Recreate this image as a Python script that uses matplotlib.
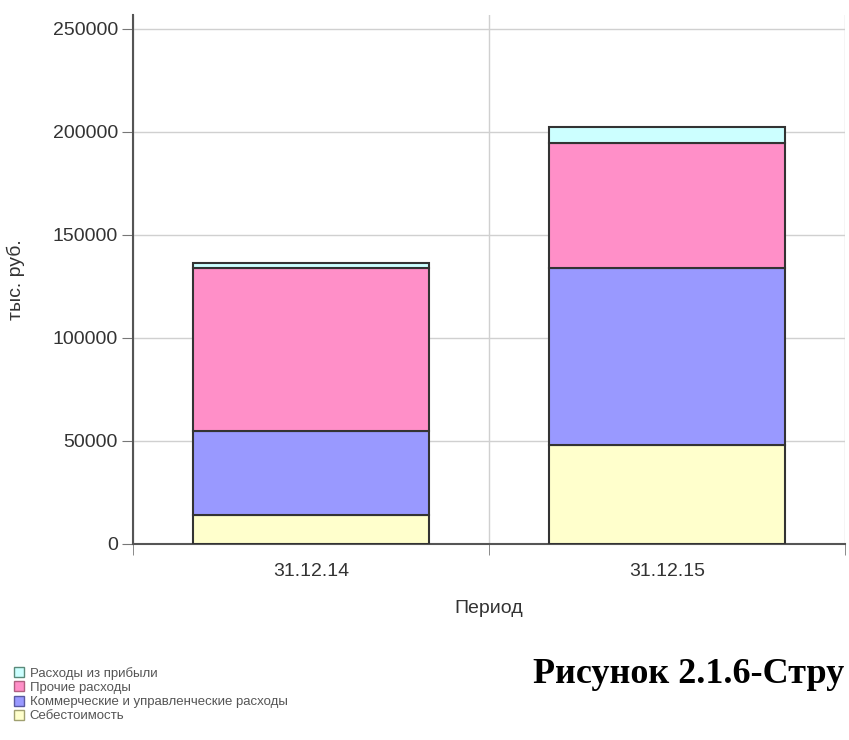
import matplotlib
matplotlib.use("Agg")
from matplotlib import pyplot as plt
import numpy as np

periods = ["31.12.14", "31.12.15"]
sebest = [14000, 48000]
kommerch = [41000, 86000]
prochie = [79000, 60700]
iz_pribyli = [2400, 7700]

names = ["Себестоимость", "Коммерческие и управленческие расходы",
         "Прочие расходы", "Расходы из прибыли"]
colors = ["#ffffcc", "#9999ff", "#ff8fc8", "#ccffff"]
legend_edges = ["#a0a070", "#5a5aa0", "#b06080", "#5a8a7a"]
series = [sebest, kommerch, prochie, iz_pribyli]

plt.rcParams["font.family"] = ["Liberation Sans", "DejaVu Sans"]

fig = plt.figure(figsize=(8.49, 7.40), dpi=100)
ax = fig.add_axes([0.157, 0.265, 0.838, 0.715])

x = np.arange(len(periods))
bottom = np.zeros(len(periods))
bars = []
for vals, col in zip(series, colors):
    b = ax.bar(x, vals, width=0.665, bottom=bottom, color=col,
               edgecolor="#333333", linewidth=1.5, zorder=3)
    bars.append(b)
    bottom += np.array(vals)

ax.set_xlim(-0.5, 1.5)
ax.set_ylim(0, 256800)
ax.set_yticks([0, 50000, 100000, 150000, 200000, 250000])
ax.set_xticks(x)
ax.set_xticklabels(periods)
ax.set_xticks([-0.5, 0.5, 1.5], minor=True)
ax.tick_params(axis="x", which="major", length=0, labelsize=14, pad=14,
               colors="#333333")
ax.tick_params(axis="x", which="minor", length=8, color="#777777")
ax.tick_params(axis="y", length=8, labelsize=14, colors="#333333",
               color="#777777", pad=3)
ax.grid(axis="y", color="#d0d0d0", linewidth=1, zorder=0)
ax.grid(axis="x", which="minor", color="#d0d0d0", linewidth=1, zorder=0)
for s in ["top", "right"]:
    ax.spines[s].set_visible(False)
ax.spines["left"].set_color("#555555")
ax.spines["left"].set_linewidth(1.5)
ax.spines["bottom"].set_color("#555555")
ax.spines["bottom"].set_linewidth(1.5)

ax.set_xlabel("Период", fontsize=14, color="#333333", labelpad=14)
ax.set_ylabel("тыс. руб.", fontsize=14, color="#333333")
ax.yaxis.set_label_coords(-0.152, 0.5)

handles = [b[0] for b in bars][::-1]
labels = names[::-1]
leg = fig.legend(handles, labels, loc="upper left",
                 bbox_to_anchor=(0.01, 0.106), frameon=False,
                 fontsize=9.5, handlelength=0.8, handleheight=0.8,
                 labelspacing=0.12, handletextpad=0.4, borderaxespad=0)
for t in leg.get_texts():
    t.set_color("#555555")
for h, ec in zip(leg.legend_handles, legend_edges[::-1]):
    h.set_linewidth(1.0)
    h.set_edgecolor(ec)

fig.text(0.628, 0.077, "Рисунок 2.1.6-Стру", fontsize=26,
         fontweight="bold", family="Liberation Serif", va="baseline")

fig.savefig("out.png", dpi=100)
